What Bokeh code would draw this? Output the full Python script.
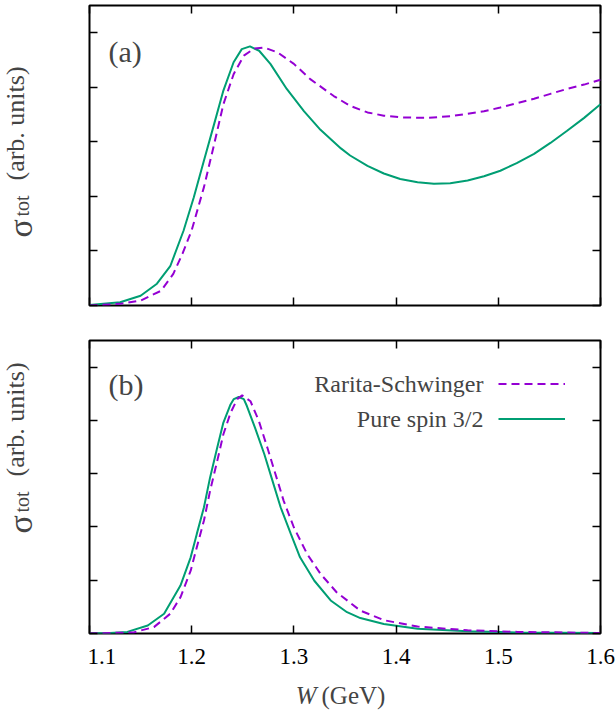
from math import pi
from bokeh.plotting import figure
from bokeh.layouts import column, row
from bokeh.models import (Range1d, FixedTicker, LinearAxis, Label, Legend, LegendItem,
                          CustomLabelingPolicy)
from bokeh.embed import file_html
from bokeh.resources import INLINE

# ---------------- data ----------------
x_ticks = [1.1, 1.2, 1.3, 1.4, 1.5, 1.6]
x_tick_labels = ["1.1", "1.2", "1.3", "1.4", "1.5", "1.6"]
y_ticks = [0, 1, 2, 3, 4, 5]

series_names = ["Rarita-Schwinger", "Pure spin 3/2"]

# panel (a)
w_a_rs = [1.100, 1.130, 1.150, 1.170, 1.182, 1.191, 1.200, 1.212, 1.222, 1.231, 1.241, 1.251, 1.261,
          1.271, 1.284, 1.300, 1.316, 1.339, 1.355, 1.372, 1.388, 1.404, 1.430, 1.453, 1.486, 1.502,
          1.518, 1.535, 1.551, 1.567, 1.584, 1.600]
s_a_rs = [0.00, 0.03, 0.09, 0.27, 0.58, 0.95, 1.38, 2.17, 2.96, 3.69, 4.24, 4.58, 4.71,
          4.73, 4.64, 4.43, 4.15, 3.84, 3.66, 3.54, 3.48, 3.45, 3.44, 3.47, 3.56, 3.63,
          3.71, 3.79, 3.88, 3.97, 4.05, 4.14]

w_a_ps = [1.100, 1.130, 1.150, 1.166, 1.179, 1.192, 1.202, 1.212, 1.222, 1.231, 1.241, 1.249, 1.257,
          1.266, 1.277, 1.293, 1.310, 1.326, 1.346, 1.355, 1.372, 1.388, 1.404, 1.421, 1.437, 1.453,
          1.470, 1.486, 1.502, 1.518, 1.535, 1.551, 1.567, 1.584, 1.600]
s_a_ps = [0.01, 0.06, 0.18, 0.40, 0.72, 1.37, 1.98, 2.66, 3.33, 3.94, 4.46, 4.70, 4.75,
          4.67, 4.43, 3.97, 3.56, 3.22, 2.88, 2.75, 2.56, 2.42, 2.32, 2.26, 2.23, 2.24,
          2.29, 2.37, 2.47, 2.61, 2.78, 2.98, 3.20, 3.44, 3.69]

# panel (b)
w_b_rs = [1.100, 1.143, 1.163, 1.179, 1.189, 1.199, 1.205, 1.212, 1.218, 1.225, 1.231, 1.238, 1.2445,
          1.2494, 1.2575, 1.2657, 1.274, 1.282, 1.290, 1.300, 1.313, 1.326, 1.342, 1.365, 1.388, 1.421,
          1.470, 1.519, 1.600]
s_b_rs = [0.00, 0.02, 0.12, 0.37, 0.68, 1.18, 1.62, 2.12, 2.68, 3.24, 3.74, 4.14, 4.40,
          4.47, 4.36, 3.99, 3.49, 2.99, 2.49, 1.99, 1.49, 1.12, 0.77, 0.43, 0.25, 0.13,
          0.06, 0.03, 0.01]

w_b_ps = [1.100, 1.120, 1.137, 1.157, 1.173, 1.189, 1.199, 1.205, 1.212, 1.218, 1.225, 1.231, 1.238,
          1.2412, 1.246, 1.251, 1.254, 1.262, 1.271, 1.279, 1.287, 1.297, 1.306, 1.320, 1.336, 1.352,
          1.365, 1.388, 1.421, 1.470, 1.519, 1.600]
s_b_ps = [0.00, 0.01, 0.03, 0.15, 0.37, 0.90, 1.43, 1.87, 2.37, 2.93, 3.49, 3.96, 4.30,
          4.40, 4.44, 4.40, 4.27, 3.86, 3.37, 2.87, 2.37, 1.87, 1.43, 0.99, 0.62, 0.40,
          0.29, 0.18, 0.09, 0.04, 0.02, 0.01]

# ---------------- style ----------------
FONT = "'Liberation Serif', serif"
GREEN = "#009E73"
PURPLE = "#9400D3"
DASH = "8 5"
LAB_W = 87
MAIN_W = 616 - LAB_W

no_labels = CustomLabelingPolicy(code="""
try { for (let i = 0; i < indices.size; i++) { indices.set(i, false) } } catch (e) {}
return indices
""")


def add_axes(p, show_x_labels):
    for side in ["below", "above", "left", "right"]:
        ticks = x_ticks if side in ("below", "above") else y_ticks
        ax = LinearAxis(ticker=FixedTicker(ticks=ticks),
                        major_tick_in=8, major_tick_out=0,
                        minor_tick_in=0, minor_tick_out=0,
                        major_tick_line_color="black", major_tick_line_width=1.5,
                        axis_line_color=None)
        if side == "below" and show_x_labels:
            ax.major_label_overrides = dict(zip(x_ticks, x_tick_labels))
            ax.major_label_text_font = FONT
            ax.major_label_text_font_size = "23px"
            ax.major_label_text_color = "black"
            ax.major_label_standoff = 15
        else:
            ax.major_label_policy = no_labels
            ax.major_label_text_font_size = "0px"
            ax.major_label_standoff = 0
        p.add_layout(ax, side)


def make_fig(height, b_top, b_bottom, show_x_labels):
    p = figure(width=MAIN_W, height=height,
               x_range=Range1d(1.1, 1.6), y_range=Range1d(0, 5.5),
               output_backend="svg", toolbar_location=None,
               x_axis_location=None, y_axis_location=None,
               min_border_left=2, min_border_right=16,
               min_border_top=b_top, min_border_bottom=b_bottom)
    p.grid.visible = False
    p.outline_line_color = "black"
    p.outline_line_width = 2
    p.outline_line_alpha = 1
    add_axes(p, show_x_labels)
    return p


def make_ylabel(height, y0):
    q = figure(width=LAB_W, height=height, x_range=Range1d(0, 1), y_range=Range1d(0, 1),
               output_backend="svg", toolbar_location=None,
               x_axis_location=None, y_axis_location=None,
               min_border=0)
    q.grid.visible = False
    q.outline_line_color = None
    q.add_layout(Label(x=20, y=y0, x_units="screen", y_units="screen", angle=pi / 2,
                       text="σ", text_font=FONT, text_font_size="34px",
                       text_baseline="alphabetic", text_align="left"))
    q.add_layout(Label(x=21, y=y0 + 21, x_units="screen", y_units="screen", angle=pi / 2,
                       text="tot", text_font=FONT, text_font_size="20px",
                       text_baseline="alphabetic", text_align="left"))
    q.add_layout(Label(x=15, y=y0 + 57, x_units="screen", y_units="screen", angle=pi / 2,
                       text="(arb. units)", text_font=FONT, text_font_size="26px",
                       text_baseline="alphabetic", text_align="left"))
    return q


# ---------------- panel (a) ----------------
pa = make_fig(310, 5, 5, False)
pa.line(w_a_ps, s_a_ps, line_color=GREEN, line_width=2)
pa.line(w_a_rs, s_a_rs, line_color=PURPLE, line_width=2, line_dash=DASH)
pa.add_layout(Label(x=19, y=254, x_units="screen", y_units="screen", text="(a)",
                    text_font=FONT, text_font_size="30px", text_baseline="middle"))
la = make_ylabel(310, 68)

# ---------------- panel (b) ----------------
pb = make_fig(362, 30, 39, True)
r_ps = pb.line(w_b_ps, s_b_ps, line_color=GREEN, line_width=2)
r_rs = pb.line(w_b_rs, s_b_rs, line_color=PURPLE, line_width=2, line_dash=DASH)
pb.add_layout(Label(x=19, y=249, x_units="screen", y_units="screen", text="(b)",
                    text_font=FONT, text_font_size="30px", text_baseline="middle"))

legend = Legend(items=[LegendItem(label=" ", renderers=[r_rs]),
                       LegendItem(label=" ", renderers=[r_ps])],
                location=(409, 197), glyph_width=67, glyph_height=35,
                label_height=35, label_width=0, label_standoff=0, spacing=0,
                padding=0, margin=0, border_line_alpha=0, background_fill_alpha=0,
                label_text_font_size="1px")
pb.add_layout(legend)
pb.add_layout(Label(x=394, y=250, x_units="screen", y_units="screen", text=series_names[0],
                    text_font=FONT, text_font_size="24px", text_align="right", text_baseline="middle"))
pb.add_layout(Label(x=394, y=215, x_units="screen", y_units="screen", text=series_names[1],
                    text_font=FONT, text_font_size="24px", text_align="right", text_baseline="middle"))
lb = make_ylabel(362, 100)

# ---------------- x-axis title: W (GeV) ----------------
xl = figure(width=616, height=711 - 310 - 362, x_range=Range1d(0, 1), y_range=Range1d(0, 1),
            output_backend="svg", toolbar_location=None,
            x_axis_location=None, y_axis_location=None, min_border=0)
xl.grid.visible = False
xl.outline_line_color = None
xl.add_layout(Label(x=316, y=16, x_units="screen", y_units="screen", text="W",
                    text_font=FONT, text_font_size="25px", text_font_style="italic",
                    text_align="right", text_baseline="alphabetic"))
xl.add_layout(Label(x=321, y=16, x_units="screen", y_units="screen", text="(GeV)",
                    text_font=FONT, text_font_size="25px",
                    text_align="left", text_baseline="alphabetic"))

layout = column(row(la, pa), row(lb, pb), xl)
open("out.html", "w").write(file_html(layout, INLINE))
